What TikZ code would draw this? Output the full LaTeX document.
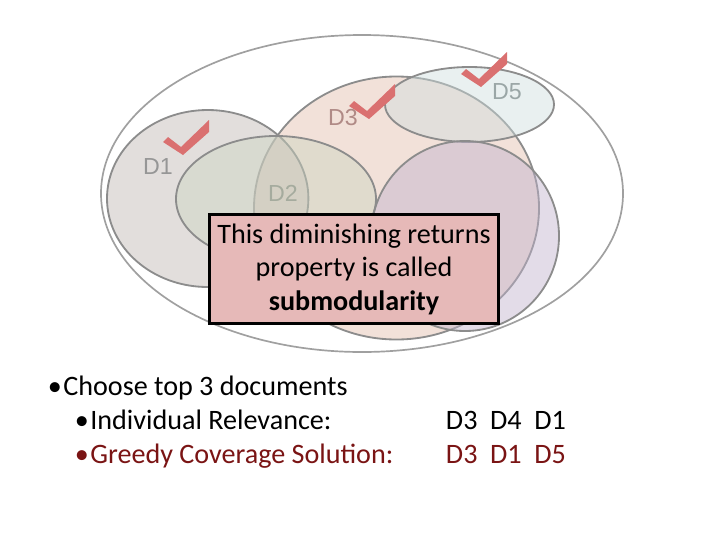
\documentclass[tikz,border=0pt]{standalone}
\usepackage{fontspec}
\setmainfont{Carlito}
\newfontfamily\vennfont{Liberation Sans}

\definecolor{setline}{RGB}{140,140,140}
\definecolor{outerline}{RGB}{160,160,160}
\definecolor{fillA}{RGB}{190,182,178}
\definecolor{fillB}{RGB}{204,213,193}
\definecolor{fillC}{RGB}{226,188,170}
\definecolor{fillD}{RGB}{192,178,205}
\definecolor{fillE}{RGB}{206,222,222}
\definecolor{boxfill}{RGB}{230,185,184}
\definecolor{tickred}{RGB}{218,112,112}
\definecolor{greedy}{RGB}{122,20,20}

\begin{document}
\begin{tikzpicture}[x=0.025cm,y=-0.025cm,
  set/.style={draw=setline,line width=1.3pt,fill opacity=0.45},
  setlabel/.style={font=\vennfont\fontsize{16.5}{19}\selectfont},
  listtext/.style={anchor=base west,font=\fontsize{20}{24}\selectfont},
  tick/.style={fill=tickred}]
  \useasboundingbox (0,0) rectangle (720,540);
  % the sets
  \draw[outerline,line width=1.2pt] (362,193.5) ellipse [x radius=261, y radius=158.5];
  \draw[set,fill=fillC] (396.5,208) ellipse [x radius=142.5, y radius=131.5];
  \draw[set,fill=fillA] (207.7,198.5) ellipse [x radius=100.7, y radius=88.5];
  \draw[set,fill=fillB] (276,199) ellipse [x radius=100, y radius=63];
  \draw[set,fill=fillE] (469.5,104.5) ellipse [x radius=84.5, y radius=37.5];
  \draw[set,fill=fillD] (465,236) ellipse [x radius=94, y radius=95];
  % labels
  \node[setlabel,text={rgb,255:red,150;green,150;blue,150}] (D1) at (158,167) {D1};
  \node[setlabel,text={rgb,255:red,165;green,171;blue,158}] (D2) at (283,193) {D2};
  \node[setlabel,text={rgb,255:red,176;green,138;blue,134}] (D3) at (343,118) {D3};
  \node[setlabel,text={rgb,255:red,154;green,166;blue,166}] (D5) at (507,92) {D5};
  % the ticks
  \foreach \tx/\ty in {182/154, 368/118, 480/86}
    \fill[tick,shift={(\tx,\ty)}] (-19,-12) -- (-14,-17) -- (-1,-7) -- (27,-34) -- (27,-22) -- (1,1) -- cycle;
  % the box
  \node[draw=black,line width=2.1pt,fill=boxfill,minimum width=7.2cm,minimum height=2.72cm,
        align=center,font=\fontsize{20}{23.8}\selectfont] (box) at (354,269)
  {This diminishing returns\\property is called\\\textbf{submodularity}};
  % the list
  \node[listtext] (choose)   at (43,395)  {•\hspace{1pt}Choose top 3 documents};
  \node[listtext] (indiv)    at (70,429)  {•\hspace{1pt}Individual Relevance:};
  \node[listtext,text=greedy] (greedy) at (70,463) {•\hspace{1pt}Greedy Coverage Solution:};
  \node[listtext] (indivD)   at (441,429) {D3\hspace{0.45em}D4\hspace{0.45em}D1};
  \node[listtext,text=greedy] (greedyD) at (441,463) {D3\hspace{0.45em}D1\hspace{0.45em}D5};
\end{tikzpicture}
\end{document}
